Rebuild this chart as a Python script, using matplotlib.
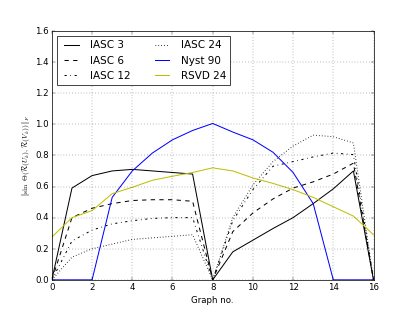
import matplotlib
matplotlib.use("Agg")
import matplotlib.pyplot as plt

graphs = list(range(17))
iasc3 = [0, 0.59, 0.67, 0.70, 0.71, 0.70, 0.69, 0.68, 0, 0.18, 0.255, 0.33, 0.40, 0.49, 0.585, 0.70, 0]
iasc6 = [0, 0.40, 0.46, 0.49, 0.51, 0.515, 0.515, 0.505, 0, 0.31, 0.43, 0.52, 0.59, 0.63, 0.68, 0.75, 0]
iasc12 = [0, 0.25, 0.32, 0.36, 0.38, 0.395, 0.40, 0.40, 0, 0.38, 0.58, 0.73, 0.76, 0.79, 0.815, 0.805, 0]
iasc24 = [0, 0.146, 0.20, 0.23, 0.26, 0.27, 0.28, 0.29, 0, 0.40, 0.61, 0.76, 0.86, 0.93, 0.92, 0.88, 0]
nyst90 = [0, 0, 0, 0.53, 0.70, 0.815, 0.90, 0.96, 1.005, 0.95, 0.90, 0.82, 0.69, 0.49, 0, 0, 0]
rsvd24 = [0.275, 0.40, 0.445, 0.554, 0.595, 0.64, 0.666, 0.69, 0.72, 0.70, 0.655, 0.62, 0.58, 0.53, 0.47, 0.41, 0.29]

plt.style.use("classic")
plt.rcParams["lines.linewidth"] = 1.4
fig = plt.figure(figsize=(8, 6), dpi=51.875)
ax = fig.add_subplot(111)
ax.plot(graphs, iasc3, "k-", label="IASC 3")
ax.plot(graphs, iasc6, "k--", label="IASC 6")
ax.plot(graphs, iasc12, "k-.", label="IASC 12")
ax.plot(graphs, iasc24, "k:", label="IASC 24")
ax.plot(graphs, nyst90, "b-", label="Nyst 90")
ax.plot(graphs, rsvd24, "y-", label="RSVD 24")
ax.set_xlim(0, 16)
ax.set_ylim(0, 1.6)
ax.grid(True)
ax.set_xlabel("Graph no.")
ax.set_ylabel(r"$\|\sin\ \Theta(\mathcal{R}(U_k), \mathcal{R}(V_k))\|_F$", fontsize=10.5)
ax.legend(loc="upper left", ncol=2)
fig.savefig("out.png", dpi=51.875)
